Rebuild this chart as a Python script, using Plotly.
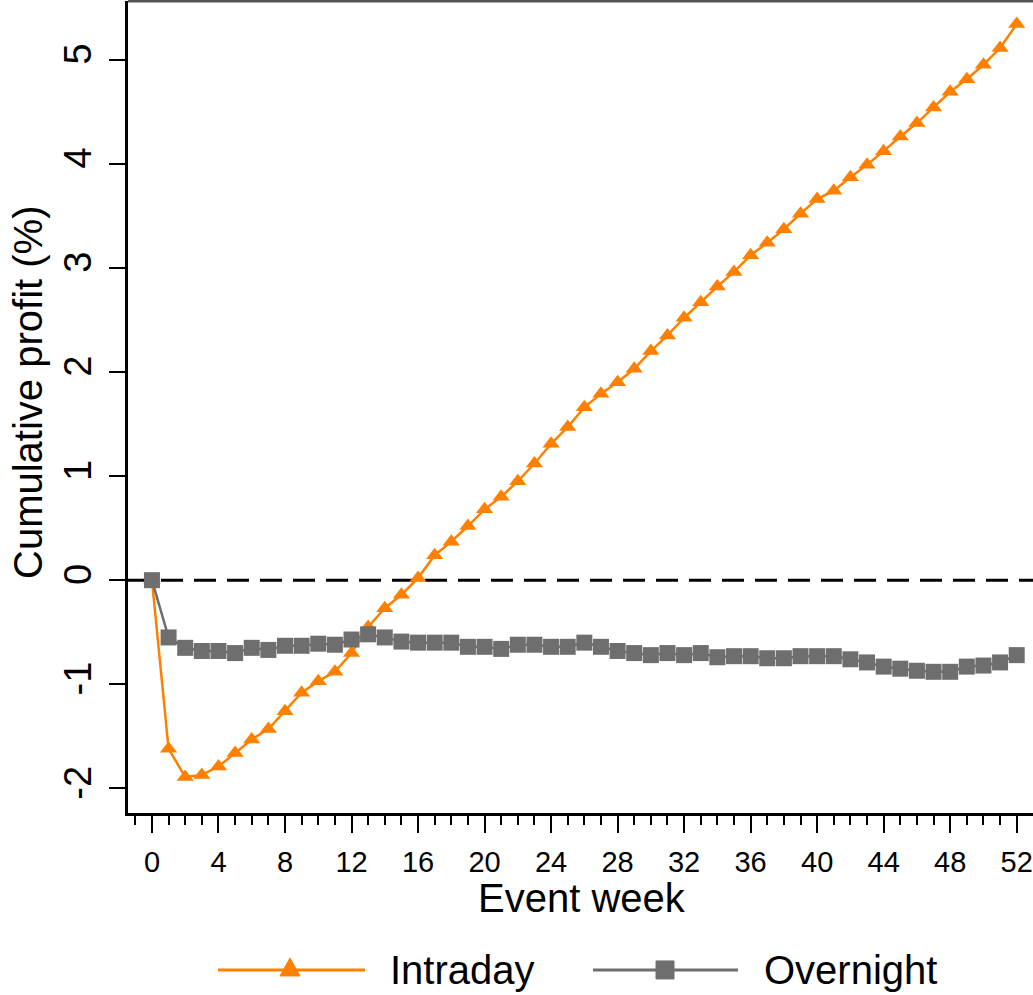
import plotly.graph_objects as go

weeks = list(range(0, 53))
intraday = [0, -1.62, -1.89, -1.87, -1.79, -1.66, -1.53, -1.43, -1.26, -1.08, -0.97,
            -0.88, -0.70, -0.45, -0.27, -0.14, 0.02, 0.24, 0.37, 0.52, 0.68, 0.80,
            0.95, 1.12, 1.31, 1.47, 1.66, 1.79, 1.90, 2.03, 2.20, 2.35, 2.52, 2.67,
            2.82, 2.96, 3.12, 3.24, 3.37, 3.52, 3.66, 3.74, 3.87, 3.99, 4.12, 4.26,
            4.39, 4.54, 4.69, 4.81, 4.95, 5.11, 5.34]
overnight = [0, -0.55, -0.65, -0.68, -0.68, -0.70, -0.65, -0.67, -0.63, -0.63, -0.61,
             -0.62, -0.57, -0.52, -0.55, -0.59, -0.60, -0.60, -0.60, -0.64, -0.64, -0.66,
             -0.62, -0.62, -0.64, -0.64, -0.60, -0.64, -0.68, -0.70, -0.72, -0.70, -0.72,
             -0.70, -0.74, -0.73, -0.73, -0.75, -0.75, -0.73, -0.73, -0.73, -0.76, -0.79,
             -0.83, -0.85, -0.87, -0.88, -0.88, -0.83, -0.82, -0.79, -0.72]
x_ticks = list(range(0, 53, 4))
y_ticks = list(range(-2, 6))

ORANGE = "#FF8000"
GRAY = "#6E6E6E"
FONT = "Arial, Liberation Sans, sans-serif"

fig = go.Figure()
fig.add_trace(go.Scatter(x=weeks, y=intraday, mode="lines+markers", name="Intraday",
                         line=dict(color=ORANGE, width=2.5),
                         marker=dict(symbol="triangle-up", size=15, color=ORANGE),
                         showlegend=False))
fig.add_trace(go.Scatter(x=weeks, y=overnight, mode="lines+markers", name="Overnight",
                         line=dict(color=GRAY, width=2.5),
                         marker=dict(symbol="square", size=16, color=GRAY),
                         showlegend=False))

# zero reference line
fig.add_shape(type="line", xref="paper", x0=0, x1=1, yref="y", y0=0, y1=0,
              line=dict(color="black", width=3, dash="22px,11px"), layer="below")
# top frame line
fig.add_shape(type="line", xref="paper", x0=0, x1=1, yref="paper", y0=1, y1=1,
              line=dict(color="#555555", width=3))

# axis titles
fig.add_annotation(text="Event week", xref="paper", yref="paper", x=0.5017, y=-0.1047,
                   xanchor="center", yanchor="middle", showarrow=False,
                   font=dict(size=40, color="black", family=FONT))
fig.add_annotation(text="Cumulative profit (%)", xref="paper", yref="paper", x=-0.1105,
                   y=0.5185, xanchor="center", yanchor="middle", textangle=-90,
                   showarrow=False, font=dict(size=40, color="black", family=FONT))

# custom legend
ly = -0.1933
fig.add_shape(type="line", xref="paper", yref="paper", x0=0.0994, x1=0.2619, y0=ly, y1=ly,
              line=dict(color=ORANGE, width=3))
fig.add_shape(type="path", xref="paper", yref="paper", xsizemode="pixel", ysizemode="pixel",
              xanchor=0.179, yanchor=ly, path="M -10,-6 L 10,-6 L 0,12 Z",
              fillcolor=ORANGE, line=dict(color=ORANGE, width=1))
fig.add_shape(type="line", xref="paper", yref="paper", x0=0.5138, x1=0.674, y0=ly, y1=ly,
              line=dict(color=GRAY, width=3))
fig.add_shape(type="rect", xref="paper", yref="paper", xsizemode="pixel", ysizemode="pixel",
              xanchor=0.5934, yanchor=ly, x0=-9, x1=9, y0=-9, y1=9,
              fillcolor=GRAY, line=dict(color=GRAY, width=1))
fig.add_annotation(text="Intraday", xref="paper", yref="paper", x=0.2873, y=ly,
                   xanchor="left", yanchor="middle", showarrow=False,
                   font=dict(size=40, color="black", family=FONT))
fig.add_annotation(text="Overnight", xref="paper", yref="paper", x=0.7006, y=ly,
                   xanchor="left", yanchor="middle", showarrow=False,
                   font=dict(size=40, color="black", family=FONT))

fig.update_layout(
    width=1033, height=995,
    margin=dict(l=128, r=0, t=1, b=182),
    paper_bgcolor="white", plot_bgcolor="white",
    font=dict(family=FONT, color="black"),
    showlegend=False,
    xaxis=dict(range=[-1.44, 52.98], tickvals=x_ticks, ticktext=[str(v) for v in x_ticks],
               showgrid=False, zeroline=False, showline=True, linecolor="black", linewidth=2.5,
               ticks="outside", ticklen=17, tickwidth=2, tickcolor="black",
               ticklabelstandoff=4,
               tickfont=dict(size=29, color="black"),
               minor=dict(dtick=1, tick0=0, ticks="outside", ticklen=9, tickwidth=2,
                          tickcolor="black", showgrid=False),
               automargin=False),
    yaxis=dict(range=[-2.236, 5.562], tickvals=y_ticks, ticktext=[str(v) for v in y_ticks],
               showgrid=False, zeroline=False, showline=True, linecolor="black", linewidth=2.5,
               ticks="outside", ticklen=16, tickwidth=2, tickcolor="black",
               tickangle=-90, ticklabelstandoff=3,
               tickfont=dict(size=38, color="black"),
               automargin=False),
)

fig.write_html("out.html", config={"displayModeBar": False},
               post_script="document.body.style.margin='0px';document.body.style.overflow='hidden';")
